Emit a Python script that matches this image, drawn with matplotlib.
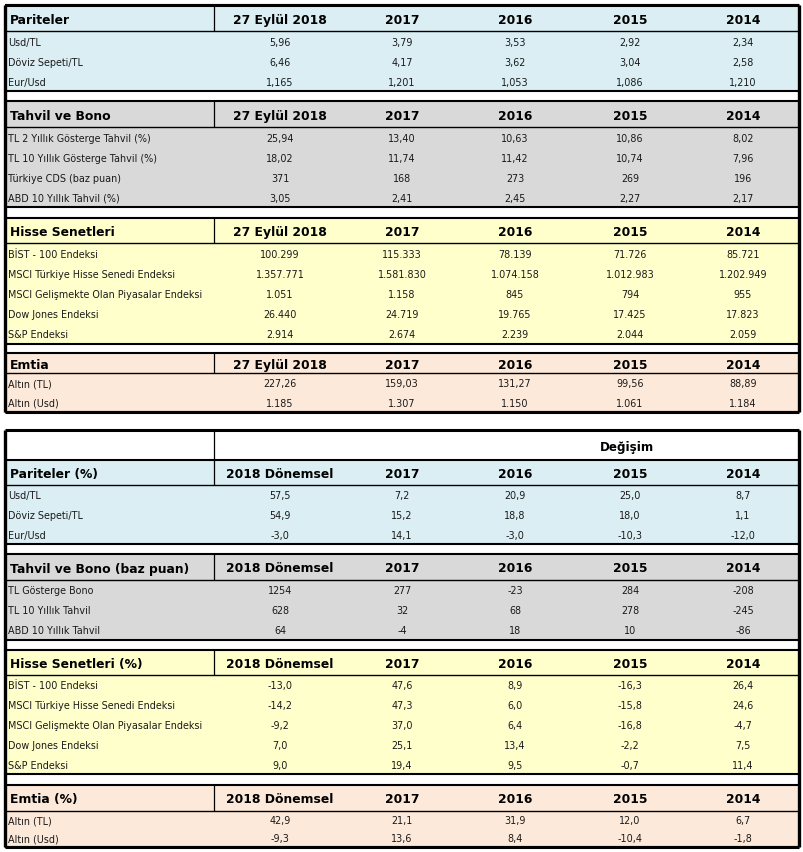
import matplotlib
matplotlib.use("Agg")
import matplotlib.pyplot as plt
from matplotlib.patches import Rectangle

# ---------------- DATA ----------------
years_top = ["27 Eylül 2018", "2017", "2016", "2015", "2014"]
years_bot = ["2018 Dönemsel", "2017", "2016", "2015", "2014"]

# Top table (levels)
par_title = "Pariteler"
par_labels = ["Usd/TL", "Döviz Sepeti/TL", "Eur/Usd"]
par_values = [[5.96, 3.79, 3.53, 2.92, 2.34],
              [6.46, 4.17, 3.62, 3.04, 2.58],
              [1.165, 1.201, 1.053, 1.086, 1.210]]
par_decimals = [2, 2, 3]

tah_title = "Tahvil ve Bono"
tah_labels = ["TL 2 Yıllık Gösterge Tahvil (%)", "TL 10 Yıllık Gösterge Tahvil (%)",
              "Türkiye CDS (baz puan)", "ABD 10 Yıllık Tahvil (%)"]
tah_values = [[25.94, 13.40, 10.63, 10.86, 8.02],
              [18.02, 11.74, 11.42, 10.74, 7.96],
              [371, 168, 273, 269, 196],
              [3.05, 2.41, 2.45, 2.27, 2.17]]
tah_decimals = [2, 2, 0, 2]

his_title = "Hisse Senetleri"
his_labels = ["BİST - 100 Endeksi", "MSCI Türkiye Hisse Senedi Endeksi",
              "MSCI Gelişmekte Olan Piyasalar Endeksi", "Dow Jones Endeksi", "S&P Endeksi"]
his_values = [[100299, 115333, 78139, 71726, 85721],
              [1357771, 1581830, 1074158, 1012983, 1202949],
              [1051, 1158, 845, 794, 955],
              [26440, 24719, 19765, 17425, 17823],
              [2914, 2674, 2239, 2044, 2059]]
his_decimals = [0, 0, 0, 0, 0]

emt_title = "Emtia"
emt_labels = ["Altın (TL)", "Altın (Usd)"]
emt_values = [[227.26, 159.03, 131.27, 99.56, 88.89],
              [1185, 1307, 1150, 1061, 1184]]
emt_decimals = [2, 0]

# Bottom table (changes)
change_title = "Değişim"
cpar_title = "Pariteler (%)"
cpar_labels = ["Usd/TL", "Döviz Sepeti/TL", "Eur/Usd"]
cpar_values = [[57.5, 7.2, 20.9, 25.0, 8.7],
               [54.9, 15.2, 18.8, 18.0, 1.1],
               [-3.0, 14.1, -3.0, -10.3, -12.0]]
cpar_decimals = [1, 1, 1]

ctah_title = "Tahvil ve Bono (baz puan)"
ctah_labels = ["TL Gösterge Bono", "TL 10 Yıllık Tahvil", "ABD 10 Yıllık Tahvil"]
ctah_values = [[1254, 277, -23, 284, -208],
               [628, 32, 68, 278, -245],
               [64, -4, 18, 10, -86]]
ctah_decimals = [0, 0, 0]
ctah_grouping = False

chis_title = "Hisse Senetleri (%)"
chis_labels = his_labels
chis_values = [[-13.0, 47.6, 8.9, -16.3, 26.4],
               [-14.2, 47.3, 6.0, -15.8, 24.6],
               [-9.2, 37.0, 6.4, -16.8, -4.7],
               [7.0, 25.1, 13.4, -2.2, 7.5],
               [9.0, 19.4, 9.5, -0.7, 11.4]]
chis_decimals = [1, 1, 1, 1, 1]

cemt_title = "Emtia (%)"
cemt_labels = emt_labels
cemt_values = [[42.9, 21.1, 31.9, 12.0, 6.7],
               [-9.3, 13.6, 8.4, -10.4, -1.8]]
cemt_decimals = [1, 1]

# ---------------- STYLE / LAYOUT ----------------
W, H = 804, 853
C_BLUE = "#daeef3"
C_GRAY = "#d9d9d9"
C_YELLOW = "#ffffcc"
C_PEACH = "#fde9d9"

X_LEFT, X_RIGHT, X_DIV = 5, 799, 214
COL_CENTERS = [280, 402, 515, 630, 743]
FONT = "DejaVu Sans"
HDR_SIZE = 8.9
TXT_SIZE = 6.95
TXT_COLOR = "#1a1a1a"


def fmt(v, d, group=True):
    s = f"{v:,.{d}f}" if group else f"{v:.{d}f}"
    return s.replace(",", "#").replace(".", ",").replace("#", ".")


fig = plt.figure(figsize=(W / 100, H / 100), dpi=100)
ax = fig.add_axes([0, 0, 1, 1])
ax.set_xlim(0, W)
ax.set_ylim(H, 0)
ax.axis("off")


def hline(y, lw=1.3):
    ax.plot([X_LEFT, X_RIGHT], [y, y], color="black", lw=lw, solid_capstyle="butt", zorder=5)


def vline(x, y0, y1, lw=1.0):
    ax.plot([x, x], [y0, y1], color="black", lw=lw, solid_capstyle="butt", zorder=5)


def section(top, hh, rh, color, title, cols, labels, values, decimals, group=True):
    n = len(labels)
    bottom = top + hh + rh * n
    ax.add_patch(Rectangle((X_LEFT, top), X_RIGHT - X_LEFT, bottom - top,
                           facecolor=color, edgecolor="none", zorder=1))
    hline(top, 1.5)
    hline(top + hh, 1.0)
    hline(bottom, 1.5)
    vline(X_DIV, top, top + hh, 0.9)
    yc = top + hh / 2 + 1
    ax.text(10, yc, title, fontsize=HDR_SIZE, fontweight="bold", family=FONT,
            va="center", ha="left", color="black", zorder=6)
    for xc, c in zip(COL_CENTERS, cols):
        ax.text(xc, yc, c, fontsize=HDR_SIZE, fontweight="bold", family=FONT,
                va="center", ha="center", color="black", zorder=6)
    for i, (lab, row, d) in enumerate(zip(labels, values, decimals)):
        y = top + hh + rh * (i + 0.5) + 0.5
        ax.text(8, y, lab, fontsize=TXT_SIZE, family=FONT, va="center", ha="left",
                color=TXT_COLOR, zorder=6)
        for xc, v in zip(COL_CENTERS, row):
            ax.text(xc, y, fmt(v, d, group), fontsize=TXT_SIZE, family=FONT, va="center",
                    ha="center", color=TXT_COLOR, zorder=6)
    return bottom


# ---- top table ----
T0 = 6
section(6, 26, 20.0, C_BLUE, par_title, years_top, par_labels, par_values, par_decimals)
section(102, 26, 20.0, C_GRAY, tah_title, years_top, tah_labels, tah_values, tah_decimals)
section(219, 25, 20.2, C_YELLOW, his_title, years_top, his_labels, his_values, his_decimals)
b1 = section(354, 20, 19.5, C_PEACH, emt_title, years_top, emt_labels, emt_values, emt_decimals)
hline(T0, 2.2)
hline(b1, 2.2)
vline(X_LEFT, T0, b1, 2.4)
vline(X_RIGHT, T0, b1, 2.4)

# ---- bottom table ----
B0 = 431
ax.text(627, B0 + 16, change_title, fontsize=8.6, fontweight="bold", family=FONT,
        va="center", ha="center", color="black", zorder=6)
vline(X_DIV, B0, 461, 0.9)
section(461, 25, 19.7, C_BLUE, cpar_title, years_bot, cpar_labels, cpar_values, cpar_decimals)
section(555, 26, 20.0, C_GRAY, ctah_title, years_bot, ctah_labels, ctah_values, ctah_decimals,
        group=ctah_grouping)
section(651, 25, 19.8, C_YELLOW, chis_title, years_bot, chis_labels, chis_values, chis_decimals)
b2 = section(786, 26, 18.0, C_PEACH, cemt_title, years_bot, cemt_labels, cemt_values, cemt_decimals)
hline(B0, 2.2)
hline(b2, 2.2)
vline(X_LEFT, B0, b2, 2.4)
vline(X_RIGHT, B0, b2, 2.4)

fig.savefig("out.png", dpi=100, facecolor="white")
